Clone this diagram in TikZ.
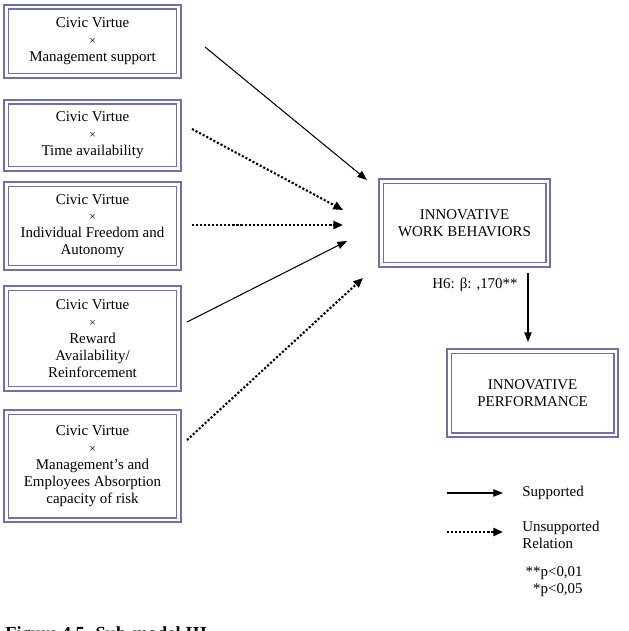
\documentclass[tikz,border=0pt]{standalone}
\usepackage{fontspec}
\setmainfont{Liberation Serif}
\usetikzlibrary{arrows.meta, positioning}
\definecolor{boxline}{RGB}{112,112,168}
\newcommand{\cross}{{\fontsize{6.5}{9}\selectfont ×}}
\tikzset{
	varbox/.style={draw=boxline, double, double distance=1.7pt, line width=0.6pt, align=center, inner sep=2pt, font=\fontsize{8.5}{9.6}\selectfont},
	plain/.style={line width=0.6pt, -{Triangle[length=5.5pt, width=4.2pt]}},
	dots/.style={line width=1.2pt, dash pattern=on 1.2pt off 1.1pt, -{Triangle[length=5.5pt, width=4.6pt]}},
	note/.style={inner sep=0pt, align=left, font=\fontsize{8.5}{9.6}\selectfont}
}
\begin{document}
\begin{tikzpicture}[x=0.02cm, y=-0.02cm]
		\useasboundingbox (0,0) rectangle (628,631);
		\clip (0,0) rectangle (628,631);

		% moderated predictors
		\node[varbox, minimum width=3.46cm, minimum height=1.38cm] (cv1) at (92.5,41.5) {Civic Virtue\\\cross\\Management support};
		\node[varbox, minimum width=3.46cm, minimum height=1.34cm] (cv2) at (92.5,135.5) {Civic Virtue\\\cross\\Time availability};
		\node[varbox, minimum width=3.46cm, minimum height=1.68cm] (cv3) at (92.5,226) {Civic Virtue\\\cross\\Individual Freedom and\\Autonomy};
		\node[varbox, minimum width=3.46cm, minimum height=2.02cm] (cv4) at (92.5,338.5) {Civic Virtue\\\cross\\Reward\\Availability/\\Reinforcement};
		\node[varbox, minimum width=3.46cm, minimum height=2.16cm] (cv5) at (92.5,466) {Civic Virtue\\\cross\\Management’s and\\Employees Absorption\\capacity of risk};

		% outcomes
		\node[varbox, minimum width=3.34cm, minimum height=1.68cm] (iwb) at (464.5,223) {INNOVATIVE\\WORK BEHAVIORS};
		\node[varbox, minimum width=3.34cm, minimum height=1.68cm] (ip) at (532.5,393) {INNOVATIVE\\PERFORMANCE};

		% arrow ends
		\coordinate (a1) at (205,47);  \coordinate (b1) at (367,180);
		\coordinate (a2) at (192,129); \coordinate (b2) at (343,210);
		\coordinate (a3) at (192,225); \coordinate (b3) at (343,225);
		\coordinate (a4) at (187,322); \coordinate (b4) at (347,241);
		\coordinate (a5) at (187,440); \coordinate (b5) at (363,278);
		\coordinate (a6) at (528,273); \coordinate (b6) at (528,342);

		\draw[plain] (a1) -- (b1);
		\draw[dots] (a2) -- (b2);
		\draw[dots] (a3) -- (b3);
		\draw[plain] (a4) -- (b4);
		\draw[dots] (a5) -- (b5);
		\draw[plain] (a6) -- (b6);
		\node[note] (h6) at (475,285) {H6: β: ,170**};

		% legend
		\coordinate (l1) at (447,493); \coordinate (r1) at (503,493);
		\coordinate (l2) at (447,532); \coordinate (r2) at (503,532);
		\draw[plain] (l1) -- (r1);
		\draw[dots] (l2) -- (r2);
		\node[note, anchor=west] (sup) at (522,493) {Supported};
		\node[note, anchor=west] (uns) at (522,535) {Unsupported\\Relation};
		\node[note, align=right, anchor=north east] (sig) at (583,566) {**p<0,01\\*p<0,05};

		% caption, cut by the page edge
		\node[inner sep=0pt, anchor=north west, font=\fontsize{10.5}{12}\selectfont\bfseries] (cap) at (5,626.5) {Figure 4.5. Sub-model III};
\end{tikzpicture}
\end{document}
